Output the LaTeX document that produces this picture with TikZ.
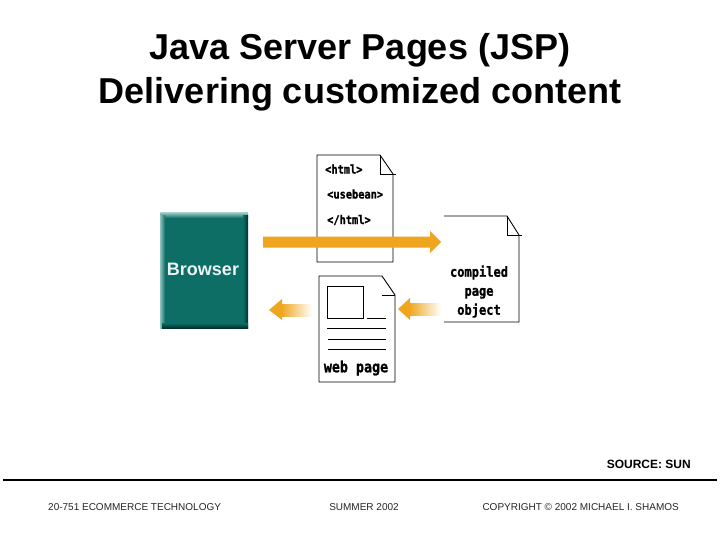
\documentclass[tikz,border=0pt]{standalone}
\usepackage{fontspec}
\setmainfont{Liberation Sans}
\newfontfamily\docfont[FakeBold=1.2,FakeStretch=0.86]{DejaVu Sans Mono Bold}
\definecolor{teal1}{HTML}{0D6E66}
\definecolor{tealL}{HTML}{8FC4BE}
\definecolor{tealD}{HTML}{02312C}
\definecolor{orng}{HTML}{EFA51E}
\tikzset{
  px/.style={x=1pt,y=-1pt},
  titletext/.style={font=\bfseries\fontsize{36}{40}\selectfont,anchor=base,inner sep=0pt,align=center},
  foot/.style={font=\fontsize{10}{12}\selectfont,inner sep=0pt,text=black!85},
  doc/.style={draw=black,line width=0.9pt,fill=white},
  fold/.style={draw=black,line width=0.9pt},
  doclabel/.style={font=\docfont\fontsize{14}{19}\selectfont,inner sep=0pt,align=center},
  codelabel/.style={font=\docfont\fontsize{12}{12}\selectfont,inner sep=0pt,anchor=west},
  thin line/.style={draw=black,line width=0.8pt},
}
\begin{document}
\begin{tikzpicture}[px]
\useasboundingbox (0,0) rectangle (720,540);
\fill[white] (0,0) rectangle (720,540);
\node[titletext] (title1) at (360,60) {Java Server Pages (JSP)};
\node[titletext] (title2) at (360,103.5) {Delivering customized content};

% Browser
\fill[teal1] (160,213) rectangle (248,328);
\shade[top color=tealL,bottom color=teal1] (160,213) rectangle (248,218);
\shade[left color=tealL,right color=teal1] (160,216) rectangle (165,328);
\shade[left color=teal1,right color=tealD] (243,216) rectangle (248,328);
\shade[top color=teal1,bottom color=tealD] (162,323) rectangle (248,328);
\node[font=\bfseries\fontsize{18}{20}\selectfont,text=white!92!teal1,inner sep=0pt] (browser) at (203,269) {Browser};

% JSP doc
\draw[doc] (317,155) -- (380,155) -- (393,174) -- (393,262) -- (317,262) -- cycle;
\draw[fold] (380,155) -- (380,174) -- (396,174);
\node[codelabel] (html) at (325,169) {<html>};
\node[codelabel] (bean) at (327,194) {<usebean>};
\node[codelabel] (chtml) at (327,220) {</html>};

% compiled doc
\draw[doc] (444,216) -- (507,216) -- (519,235) -- (519,322) -- (444,322);
\draw[fold] (507,216) -- (507,235) -- (522,235);
\node[doclabel] (compiled) at (479,291.5) {compiled\\page\\object};

% web page doc
\draw[doc] (319,276) -- (382,276) -- (395,295) -- (395,382) -- (319,382) -- cycle;
\draw[fold] (382,295) -- (395,295);
\draw[thin line] (327,286) rectangle (363,318);
\draw[thin line] (367,318) -- (386,318);
\draw[thin line] (327,328) -- (386,328);
\draw[thin line] (328,339) -- (386,339);
\draw[thin line] (328,349) -- (386,349);
\node[doclabel,font=\docfont\fontsize{15.5}{16}\selectfont] (webpage) at (356,368) {web page};

% arrows
\fill[orng] (263,236.5) -- (430,236.5) -- (430,231) -- (441,242) -- (430,253) -- (430,247.5) -- (263,247.5) -- cycle;
\shade[left color=orng,right color=white] (281,304) rectangle (312,316);
\fill[orng] (269,310) -- (282,299) -- (282,320) -- cycle;
\shade[left color=orng,right color=white] (409,303) rectangle (441,315);
\fill[orng] (398,309) -- (410,298) -- (410,320) -- cycle;

% footer
\node[font=\bfseries\fontsize{12}{14}\selectfont,anchor=east,inner sep=0pt] (source) at (691,464.5) {SOURCE: SUN};
\draw[line width=2.2pt] (3,480) -- (717,480);
\node[foot,anchor=west] (f1) at (48,507.5) {20-751 ECOMMERCE TECHNOLOGY};
\node[foot,anchor=center] (f2) at (364,507.5) {SUMMER 2002};
\node[foot,anchor=east] (f3) at (679,507.5) {COPYRIGHT © 2002 MICHAEL I. SHAMOS};
\end{tikzpicture}
\end{document}
